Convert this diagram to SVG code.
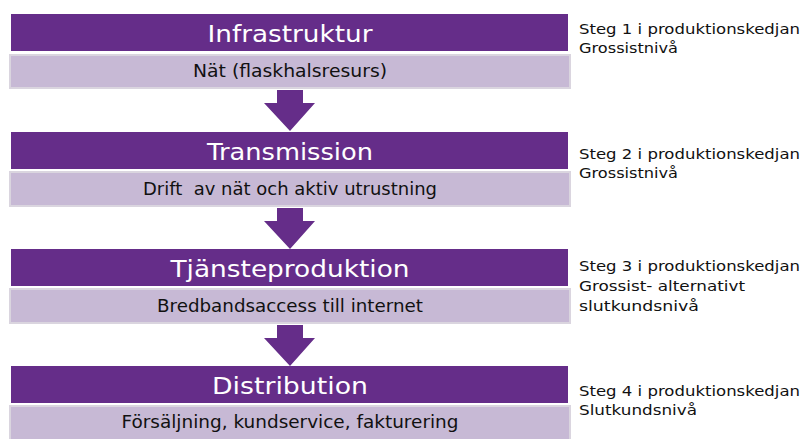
<svg xmlns="http://www.w3.org/2000/svg" width="807" height="439" viewBox="0 0 807 439">
<style>
.hd{fill:#652D89}
.sb{fill:#C7B9D5;stroke:#DAD5DF;stroke-width:2}
.ar{fill:#652D89}
.t1{font-family:"DejaVu Sans",Verdana,sans-serif;font-size:23px;fill:#ffffff;text-anchor:middle}
.t2{font-family:"DejaVu Sans",Verdana,sans-serif;font-size:17.5px;fill:#111111;text-anchor:middle}
.t3{font-family:"DejaVu Sans",Verdana,sans-serif;font-size:14px;fill:#111111}
</style>
<rect width="807" height="439" fill="#ffffff"/>
<g id="connectors">
<path class="ar" d="M277,90 H303 V103 H315 L290,131 L264,103 H277 Z"/>
<path class="ar" d="M277,208 H303 V221 H315 L290,249 L264,221 H277 Z"/>
<path class="ar" d="M277,325 H303 V338 H315 L290,366 L264,338 H277 Z"/>
</g>
<g id="node1">
<rect class="hd" x="11" y="14" width="557" height="37"/>
<rect class="sb" x="10" y="55" width="560" height="33"/>
<text class="t1" x="290" y="42" textLength="165" lengthAdjust="spacingAndGlyphs">Infrastruktur</text>
<text class="t2" x="290" y="77" textLength="194" lengthAdjust="spacingAndGlyphs">Nät (flaskhalsresurs)</text>
</g>
<g id="node2">
<rect class="hd" x="11" y="132" width="557" height="37"/>
<rect class="sb" x="10" y="172" width="560" height="34"/>
<text class="t1" x="290" y="160" textLength="166" lengthAdjust="spacingAndGlyphs">Transmission</text>
<text class="t2" x="290" y="195" textLength="294" lengthAdjust="spacingAndGlyphs">Drift&#160; av nät och aktiv utrustning</text>
</g>
<g id="node3">
<rect class="hd" x="11" y="249" width="557" height="37"/>
<rect class="sb" x="10" y="289" width="560" height="34"/>
<text class="t1" x="290" y="277" textLength="239" lengthAdjust="spacingAndGlyphs">Tjänsteproduktion</text>
<text class="t2" x="290" y="312" textLength="266" lengthAdjust="spacingAndGlyphs">Bredbandsaccess till internet</text>
</g>
<g id="node4">
<rect class="hd" x="11" y="366" width="557" height="37"/>
<rect class="sb" x="10" y="406" width="560" height="34"/>
<text class="t1" x="290" y="394" textLength="156" lengthAdjust="spacingAndGlyphs">Distribution</text>
<text class="t2" x="290" y="428" textLength="337" lengthAdjust="spacingAndGlyphs">Försäljning, kundservice, fakturering</text>
</g>
<g id="labels">
<text class="t3" x="579" y="34" textLength="221" lengthAdjust="spacingAndGlyphs">Steg 1 i produktionskedjan</text>
<text class="t3" x="579" y="53" textLength="99" lengthAdjust="spacingAndGlyphs">Grossistnivå</text>
<text class="t3" x="579" y="159" textLength="221" lengthAdjust="spacingAndGlyphs">Steg 2 i produktionskedjan</text>
<text class="t3" x="579" y="178" textLength="99" lengthAdjust="spacingAndGlyphs">Grossistnivå</text>
<text class="t3" x="579" y="271" textLength="221" lengthAdjust="spacingAndGlyphs">Steg 3 i produktionskedjan</text>
<text class="t3" x="579" y="291" textLength="166" lengthAdjust="spacingAndGlyphs">Grossist- alternativt</text>
<text class="t3" x="579" y="311" textLength="120" lengthAdjust="spacingAndGlyphs">slutkundsnivå</text>
<text class="t3" x="579" y="396" textLength="221" lengthAdjust="spacingAndGlyphs">Steg 4 i produktionskedjan</text>
<text class="t3" x="579" y="415" textLength="118" lengthAdjust="spacingAndGlyphs">Slutkundsnivå</text>
</g>
</svg>
